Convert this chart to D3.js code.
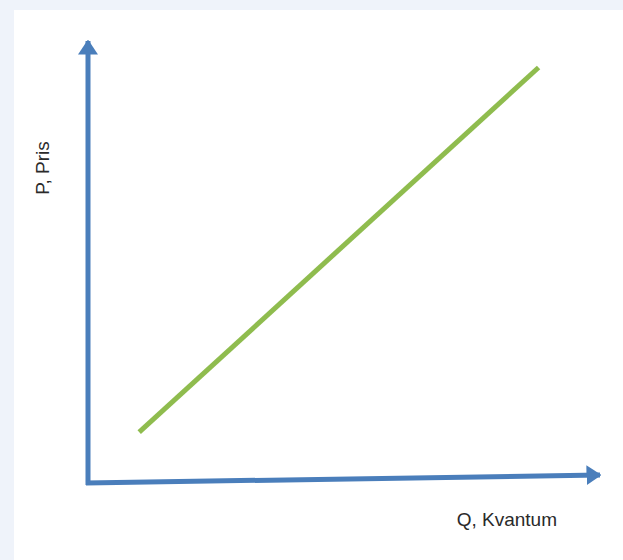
<!DOCTYPE html>
<html>
<head>
<meta charset="utf-8">
<script src="https://cdn.jsdelivr.net/npm/d3@7"></script>
<style>
  body { margin: 0; background: #eff3fa; }
  svg { display: block; }
  text { font-family: "Liberation Sans", Arial, sans-serif; font-size: 19px; fill: #2a2a2a; }
</style>
</head>
<body>
<div id="chart"></div>
<script>
const width = 623;
const height = 560;

// supply line (Q, P) endpoints
const lineQ = [1.0, 8.8];
const lineP = [1.15, 9.4];
const xLabel = "Q, Kvantum";
const yLabel = "P, Pris";

const svg = d3.select("#chart").append("svg").attr("width", width).attr("height", height);

svg.append("rect").attr("x", 14).attr("y", 10).attr("width", width - 14).attr("height", height - 10).attr("fill", "#fff");

const x = d3.scaleLinear().domain([0, 10]).range([88, 600]);
const y = d3.scaleLinear().domain([0, 10]).range([483, 41]);

const blue = "#4a7ebb";

svg.append("defs").append("marker")
  .attr("id", "arrow")
  .attr("viewBox", "0 0 10 10")
  .attr("preserveAspectRatio", "none")
  .attr("refX", 9).attr("refY", 5)
  .attr("markerWidth", 3).attr("markerHeight", 4)
  .attr("markerUnits", "strokeWidth")
  .attr("orient", "auto")
  .append("path").attr("d", "M0,0L10,5L0,10Z").attr("fill", blue);

// y axis
svg.append("line")
  .attr("x1", x(0)).attr("y1", y(0) + 2)
  .attr("x2", x(0)).attr("y2", y(10))
  .attr("stroke", blue).attr("stroke-width", 5)
  .attr("marker-end", "url(#arrow)");

// x axis (drawn slightly tilted as in the original)
svg.append("line")
  .attr("x1", x(0) - 2).attr("y1", y(0))
  .attr("x2", x(10)).attr("y2", y(0) - 8)
  .attr("stroke", blue).attr("stroke-width", 5)
  .attr("marker-end", "url(#arrow)");

// green line
svg.append("path")
  .datum(lineQ.map((q, i) => [q, lineP[i]]))
  .attr("fill", "none")
  .attr("stroke", "#8fbc4e")
  .attr("stroke-width", 5)
  .attr("d", d3.line().x(d => x(d[0])).y(d => y(d[1])));

svg.append("text")
  .attr("x", 557).attr("y", 526)
  .attr("text-anchor", "end")
  .text(xLabel);

svg.append("text")
  .attr("transform", "translate(49,168) rotate(-90)")
  .attr("text-anchor", "middle")
  .text(yLabel);
</script>
</body>
</html>
